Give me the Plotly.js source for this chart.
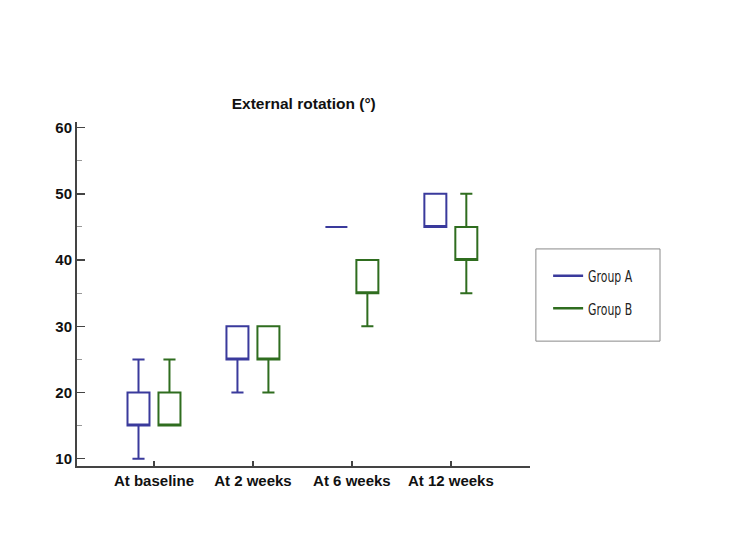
<!DOCTYPE html>
<html>
<head>
<meta charset="utf-8">
<script src="https://cdn.plot.ly/plotly-3.0.1.min.js"></script>
<style>
  html, body { margin: 0; padding: 0; background: #ffffff; }
  #chart { width: 750px; height: 542px; }
</style>
</head>
<body>
<div id="chart"></div>
<script>
// Time points on the x axis
const timepoints = ['At baseline', 'At 2 weeks', 'At 6 weeks', 'At 12 weeks'];

// Group A box statistics (external rotation, degrees)
const groupA_low    = [10, 20, 45, 45];
const groupA_q1     = [15, 25, 45, 45];
const groupA_median = [15, 25, 45, 45];
const groupA_q3     = [20, 30, 45, 50];
const groupA_high   = [25, 30, 45, 50];

// Group B box statistics (external rotation, degrees)
const groupB_low    = [15, 20, 30, 35];
const groupB_q1     = [15, 25, 35, 40];
const groupB_median = [15, 25, 35, 40];
const groupB_q3     = [20, 30, 40, 45];
const groupB_high   = [25, 30, 40, 50];

const seriesNames = ['Group A', 'Group B'];
const colorA = '#3a3a9c';
const colorB = '#2f6d1f';

function boxTrace(name, color, low, q1, med, q3, high) {
  return {
    type: 'box',
    name: name,
    x: timepoints,
    lowerfence: low,
    q1: q1,
    median: med,
    q3: q3,
    upperfence: high,
    boxpoints: false,
    whiskerwidth: 0.55,
    line: { color: color, width: 2 },
    fillcolor: 'rgba(0,0,0,0)',
    showlegend: false,
    hoverinfo: 'y'
  };
}

// Line-style legend keys
function legendKey(name, color, group) {
  return {
    type: 'scatter',
    mode: 'lines',
    name: name,
    x: [null],
    y: [null],
    line: { color: color, width: 2.5 },
    legendgroup: group,
    showlegend: true
  };
}

const data = [
  boxTrace(seriesNames[0], colorA, groupA_low, groupA_q1, groupA_median, groupA_q3, groupA_high),
  boxTrace(seriesNames[1], colorB, groupB_low, groupB_q1, groupB_median, groupB_q3, groupB_high),
  legendKey(seriesNames[0], colorA, 'a'),
  legendKey(seriesNames[1], colorB, 'b')
];

const layout = {
  width: 750,
  height: 542,
  paper_bgcolor: '#ffffff',
  plot_bgcolor: '#ffffff',
  margin: { l: 77, r: 220, t: 122, b: 76, pad: 0 },
  boxmode: 'group',
  boxgap: 0.374,
  boxgroupgap: 0.29,
  title: {
    text: '<b>External rotation (°)</b>',
    font: { family: 'Liberation Sans, Arial, sans-serif', size: 15.5, color: '#111111' },
    x: 0.405,
    xanchor: 'center',
    y: 0.808,
    yanchor: 'middle'
  },
  xaxis: {
    type: 'category',
    range: [-0.778, 3.8],
    showgrid: false,
    zeroline: false,
    showline: true,
    linecolor: '#444444',
    linewidth: 2,
    ticks: 'inside',
    ticklen: 5,
    tickwidth: 2,
    tickcolor: '#444444',
    tickfont: { family: 'Liberation Sans, Arial, sans-serif', size: 15, color: '#111111', weight: 'bold' },
    fixedrange: true
  },
  yaxis: {
    range: [8.9, 60.85],
    tickvals: [10, 20, 30, 40, 50, 60],
    showgrid: false,
    zeroline: false,
    showline: true,
    linecolor: '#444444',
    linewidth: 2,
    ticks: 'inside',
    ticklen: 8,
    tickwidth: 1.5,
    tickcolor: '#444444',
    tickfont: { family: 'Liberation Sans, Arial, sans-serif', size: 15, color: '#111111', weight: 'bold' },
    minor: { tickvals: [15, 25, 35, 45, 55], ticks: 'inside', ticklen: 5, tickwidth: 1, tickcolor: '#999999', showgrid: false },
    fixedrange: true
  },
  showlegend: true,
  legend: {
    x: 1.04,
    xanchor: 'left',
    y: 0.603,
    yanchor: 'top',
    bgcolor: 'rgba(0,0,0,0)',
    borderwidth: 0,
    traceorder: 'grouped',
    tracegroupgap: 8,
    itemwidth: 30,
    font: { family: 'DejaVu Sans Condensed, sans-serif', size: 16.5, color: '#222222' }
  },
  shapes: [
    {
      type: 'rect',
      xref: 'paper', yref: 'paper',
      x0: 1.013, x1: 1.287, y0: 0.363, y1: 0.631,
      line: { color: '#8a8a8a', width: 1 },
      fillcolor: 'rgba(0,0,0,0)'
    }
  ]
};

Plotly.newPlot('chart', data, layout, { displayModeBar: false, staticPlot: true }).then(function (gd) {
  // Narrow the legend labels to a condensed set width
  gd.querySelectorAll('.legendtext').forEach(function (t) {
    t.setAttribute('textLength', '44');
    t.setAttribute('lengthAdjust', 'spacingAndGlyphs');
  });
});
</script>
</body>
</html>
